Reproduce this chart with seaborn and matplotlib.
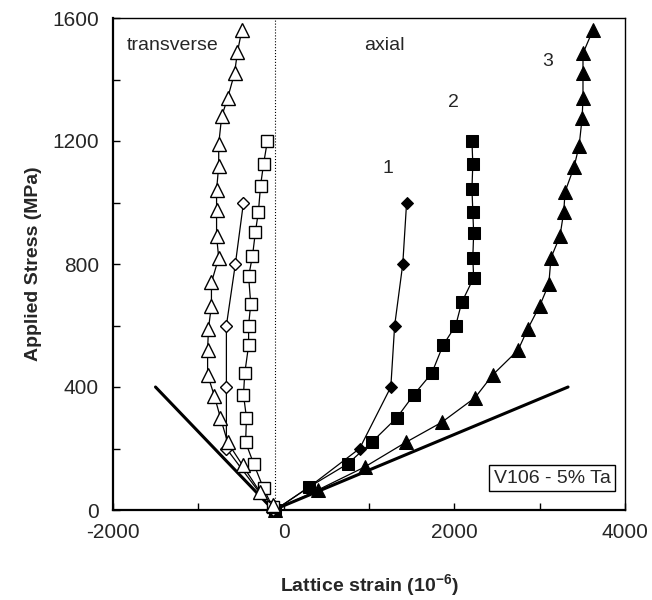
import matplotlib
matplotlib.use("Agg")
import matplotlib.pyplot as plt
import seaborn as sns
from matplotlib.ticker import MultipleLocator

# transverse (open symbols)
tri_open_x = [-490, -540, -575, -655, -725, -760, -760, -785, -785, -785, -760,
              -845, -845, -880, -890, -890, -810, -740, -655, -480, -280, -130]
tri_open_y = [1560, 1490, 1420, 1340, 1280, 1190, 1120, 1040, 975, 890, 820,
              740, 665, 590, 520, 440, 370, 300, 220, 145, 60, 15]

sq_open_x = [-190, -235, -270, -295, -330, -365, -410, -385, -410, -410, -455,
             -470, -435, -445, -350, -235, -130]
sq_open_y = [1200, 1125, 1055, 970, 905, 825, 760, 670, 600, 535, 445,
             375, 300, 220, 150, 70, 10]

dia_open_x = [-470, -565, -670, -670, -670, -130]
dia_open_y = [1000, 800, 600, 400, 200, 0]

# axial (filled symbols)
dia_fill_x = [1440, 1395, 1300, 1255, 890, 300, -100]
dia_fill_y = [1000, 800, 600, 400, 200, 75, 0]

sq_fill_x = [2205, 2215, 2205, 2215, 2225, 2215, 2225, 2085, 2015, 1865, 1735,
             1525, 1325, 1030, 750, 300, -100]
sq_fill_y = [1200, 1125, 1045, 970, 900, 820, 755, 675, 600, 535, 445,
             375, 300, 220, 150, 75, 0]

tri_fill_x = [3620, 3505, 3505, 3505, 3495, 3460, 3400, 3295, 3280, 3235, 3130,
              3105, 3000, 2860, 2745, 2450, 2240, 1850, 1430, 950, 400, -100]
tri_fill_y = [1560, 1485, 1420, 1340, 1275, 1185, 1115, 1035, 970, 890, 820,
              735, 665, 590, 520, 440, 365, 285, 220, 140, 65, 0]

# elastic (thick) lines
trans_line_x = [-1500, -120]
trans_line_y = [400, 0]
axial_line_x = [-120, 3330]
axial_line_y = [0, 400]

sns.set_style("ticks")
plt.rcParams["font.family"] = ["Liberation Sans", "DejaVu Sans"]
plt.rcParams["axes.unicode_minus"] = False

fig = plt.figure(figsize=(6.52, 6), dpi=100)
ax = fig.add_axes([0.173, 0.15, 0.786, 0.82])

common = dict(ax=ax, sort=False, estimator=None, color="black", lw=0.9,
              clip_on=False)

sns.lineplot(x=trans_line_x, y=trans_line_y, ax=ax, sort=False, estimator=None,
             color="black", lw=2.2, zorder=2)
sns.lineplot(x=axial_line_x, y=axial_line_y, ax=ax, sort=False, estimator=None,
             color="black", lw=2.2, zorder=2)

# axial curves first, so the open symbols sit on top at the origin
sns.lineplot(x=dia_fill_x, y=dia_fill_y, marker="D", ms=6.5, mfc="black",
             mec="black", zorder=3, **common)
sns.lineplot(x=sq_fill_x, y=sq_fill_y, marker="s", ms=8.5, mfc="black",
             mec="black", zorder=3, **common)
sns.lineplot(x=tri_fill_x, y=tri_fill_y, marker="^", ms=10, mfc="black",
             mec="black", zorder=3, **common)

sns.lineplot(x=dia_open_x, y=dia_open_y, marker="D", ms=6.5, mfc="white",
             mec="black", mew=1.0, zorder=4, **common)
sns.lineplot(x=sq_open_x, y=sq_open_y, marker="s", ms=8.5, mfc="white",
             mec="black", mew=1.0, zorder=4, **common)
sns.lineplot(x=tri_open_x, y=tri_open_y, marker="^", ms=10, mfc="white",
             mec="black", mew=1.0, zorder=4, **common)

ax.axvline(-100, color="black", ls=":", lw=0.8, zorder=1)

ax.set_xlim(-2000, 4000)
ax.set_ylim(0, 1600)
ax.xaxis.set_major_locator(MultipleLocator(2000))
ax.xaxis.set_minor_locator(MultipleLocator(1000))
ax.yaxis.set_major_locator(MultipleLocator(400))
ax.yaxis.set_minor_locator(MultipleLocator(200))
ax.tick_params(which="both", direction="in", length=5, width=1.0,
               labelsize=15, color="black")
ax.tick_params(axis="x", pad=9)
ax.tick_params(axis="y", pad=10)

for side in ["top", "right"]:
    ax.spines[side].set_visible(True)
    ax.spines[side].set_linewidth(1.0)
for side in ["left", "bottom"]:
    ax.spines[side].set_linewidth(1.6)
for sp in ax.spines.values():
    sp.set_color("black")

ax.set_xlabel("Lattice strain (10$^{\\mathregular{-6}}$)", fontsize=14,
              fontweight="bold", labelpad=22)
ax.set_ylabel("Applied Stress (MPa)", fontsize=14, fontweight="bold",
              labelpad=7)

ax.text(-1840, 1510, "transverse", fontsize=14, ha="left", va="center")
ax.text(1184, 1512, "axial", fontsize=14, ha="center", va="center")
ax.text(1220, 1112, "1", fontsize=14, ha="center", va="center")
ax.text(1993, 1324, "2", fontsize=14, ha="center", va="center")
ax.text(3095, 1457, "3", fontsize=14, ha="center", va="center")
ax.text(3142, 104, "V106 - 5% Ta", fontsize=14, ha="center", va="center",
        bbox=dict(boxstyle="square,pad=0.25", fc="white", ec="black", lw=1.0))

plt.savefig("out.png", dpi=100)
plt.close()
